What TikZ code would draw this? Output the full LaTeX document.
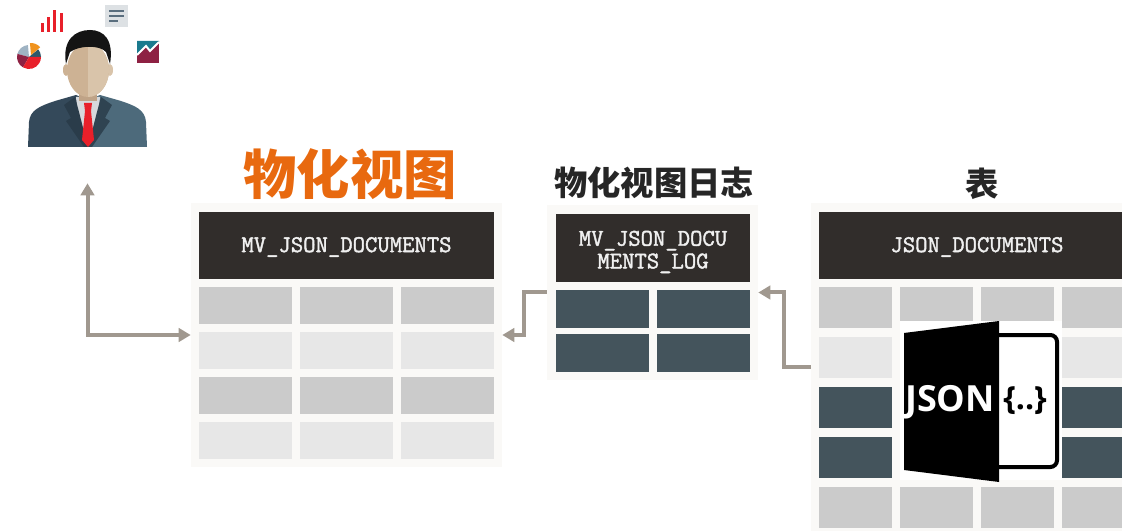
\documentclass[tikz,border=0pt]{standalone}
\usepackage{fontspec}
\usepackage{tikz}
\usetikzlibrary{arrows.meta,fit,positioning}

\newfontfamily\cjk{Noto Sans CJK SC}
\newfontfamily\iconfont{Open Sans}
\newfontfamily\headmono{Latin Modern Mono}[FakeBold=1.6]

\definecolor{headdark}{HTML}{312D2B}
\definecolor{panelbg}{HTML}{FAF9F7}
\definecolor{cellA}{HTML}{CBCBCB}
\definecolor{cellB}{HTML}{E7E7E7}
\definecolor{slate}{HTML}{44545C}
\definecolor{arrowgray}{HTML}{A0988F}
\definecolor{mvorange}{HTML}{E8690F}
\definecolor{suitL}{HTML}{34495A}
\definecolor{suitR}{HTML}{4D6A7B}
\definecolor{lapel}{HTML}{2A3C4A}
\definecolor{shirt}{HTML}{D6D9DC}
\definecolor{tiered}{HTML}{E8202A}
\definecolor{skinL}{HTML}{CDB294}
\definecolor{skinR}{HTML}{D9C4AA}
\definecolor{skinD}{HTML}{BFA387}
\definecolor{hair}{HTML}{141414}
\definecolor{pieorange}{HTML}{F0931E}
\definecolor{pieblue}{HTML}{9FB3C3}
\definecolor{maroon}{HTML}{8E2143}
\definecolor{teal}{HTML}{1B7A8E}
\definecolor{docbg}{HTML}{DDE1E4}
\definecolor{docline}{HTML}{5A6E7E}

\tikzset{
  panel/.style={fill=panelbg, draw=none, inner sep=0pt},
  headbox/.style={fill=headdark, draw=none, inner sep=0pt},
  headtext/.style={text=white!94!black, inner sep=0pt, align=center,
    font=\fontsize{18}{17}\selectfont\headmono},
  flow/.style={draw=arrowgray, line width=3pt, >={Triangle[length=9pt,width=10pt]}},
  title/.style={font=\cjk\bfseries\fontsize{25}{25}\selectfont, text=black!85, inner sep=0pt}
}

\begin{document}
\begin{tikzpicture}[x=0.75pt,y=-0.75pt]
\useasboundingbox (0,0) rectangle (1122,531);

% user with charts
\node[fit={(28,30) (147,147)}, inner sep=0pt] (user) {};
\fill[suitL] (28,147) -- (29,122) .. controls (30,110) and (40,106) .. (55,101) -- (76,95) -- (88,100) -- (88,147) -- cycle;
\fill[suitR] (147,147) -- (146,122) .. controls (145,110) and (136,106) .. (121,101) -- (100,95) -- (88,100) -- (88,147) -- cycle;
\fill[shirt] (76,97) -- (100,97) -- (98,118) -- (88,147) -- (78,118) -- cycle;
\fill[lapel] (75,97) -- (64,105) -- (71,118) -- (66,121) -- (84,147) -- (88,147) -- (79,112) -- cycle;
\fill[lapel!85!suitR] (101,97) -- (112,105) -- (105,118) -- (110,121) -- (92,147) -- (88,147) -- (97,112) -- cycle;
\fill[tiered] (84,103) -- (92,103) -- (91,111) -- (85,111) -- cycle;
\fill[tiered] (85,111) -- (91,111) -- (94,140) -- (88,147) -- (82,140) -- cycle;
\fill[skinD] (79,84) rectangle (97,101);
\fill[skinL] (66,70) ellipse (3 and 6);
\fill[skinR] (110,70) ellipse (3 and 6);
\fill[skinL] (88,70) ellipse (21 and 27);
\begin{scope}
  \clip (88,40) rectangle (112,100);
  \fill[skinR] (88,70) ellipse (21 and 27);
\end{scope}
\fill[hair] (66,64) .. controls (62,40) and (75,30) .. (90,30) .. controls (104,30) and (114,40) .. (110,64)
  -- (106,52) .. controls (100,45) and (80,45) .. (70,52) -- cycle;
% bars
\foreach \bx/\by in {41/23,47/17,53/10,60/13}
  \fill[tiered] (\bx,\by) rectangle ({\bx+3},32);
% pie
\begin{scope}[shift={(29,57)},yscale=-1]
  \fill[teal!30!suitL] (0,0) -- (0:12) arc[start angle=0, end angle=40, radius=12] -- cycle;
  \fill[pieblue] (0,0) -- (95:12) arc[start angle=95, end angle=165, radius=12] -- cycle;
  \fill[maroon] (0,0) -- (165:12) arc[start angle=165, end angle=240, radius=12] -- cycle;
  \fill[tiered] (0,0) -- (240:12) arc[start angle=240, end angle=360, radius=12] -- cycle;
  \fill[pieorange] (2,2) -- ++(40:12) arc[start angle=40, end angle=95, radius=12] -- cycle;
\end{scope}
% report
\fill[docbg] (105,5) rectangle (128,27);
\draw[docline, line width=2pt] (109,11) -- (124,11) (109,16) -- (124,16) (109,21) -- (118,21);
% trend
\fill[maroon] (137,41) rectangle (159,63);
\fill[teal] (137,41) -- (159,41) -- (159,42) -- (150,51) -- (146,46) -- (137,55) -- cycle;
\draw[white, line width=1.5pt] (137,55) -- (146,46) -- (150,51) -- (159,42);

% materialized view
\node[title, font=\cjk\bfseries\fontsize{40}{40}\selectfont, text=mvorange] (mvtitle) at (350,174) {物化视图};
\node[panel, fit={(191,203) (502,467)}] (mvpanel) {};
\node[headbox, fit={(199,212) (494,279)}] (mvhead) {};
\node[headtext] (mvname) at (346.5,247) {MV\_JSON\_DOCUMENTS};
\foreach \r/\c in {0/cellA,1/cellB,2/cellA,3/cellB}
  \foreach \k in {0,1,2}
    \fill[\c] ({199+101*\k},{287+45*\r}) rectangle ++(93,37);

% log
\node[title] (logtitle) at (654,183) {物化视图日志};
\node[panel, fit={(547,205) (758,380)}] (logpanel) {};
\node[headbox, fit={(556,214) (750,282)}] (loghead) {};
\node[headtext] (logname) at (653,252) {MV\_JSON\_DOCU\\MENTS\_LOG};
\foreach \r in {0,1}
  \foreach \k in {0,1}
    \fill[slate] ({556+101*\k},{290+44*\r}) rectangle ++(93,38);

% table
\node[title] (tbltitle) at (982,184) {表};
\node[panel, fit={(811,203) (1122,531)}] (tblpanel) {};
\node[headbox, fit={(819,212) (1122,279)}] (tblhead) {};
\node[headtext] (tblname) at (977,247) {JSON\_DOCUMENTS};
\foreach \r/\c in {0/cellA,1/cellB,2/slate,3/slate,4/cellA}
  \foreach \k in {0,1,2,3}
    \fill[\c] ({819+81*\k},{287+50*\r}) rectangle ++(73,41);

% json file
\node[fill=white, inner sep=0pt, fit={(900,321) (1062,480)}] (jsonicon) {};
\draw[black, line width=3pt, rounded corners=5pt] (990,335) rectangle (1057,467);
\fill[black] (904,333) -- (999,321) -- (999,482) -- (904,470) -- cycle;
\node[text=white, font=\iconfont\bfseries\fontsize{27}{27}\selectfont, inner sep=0pt] (jsonword) at (950,402) {JSON};
\node[text=black, font=\iconfont\bfseries\fontsize{24}{24}\selectfont, inner sep=0pt] (jsonbrace) at (1025,401) {\{..\}};

% data flow
\draw[flow, ->] (tblpanel.west) -- ++(-27,0) |- (logpanel.east);
\draw[flow, ->] (logpanel.west) -- ++(-23,0) |- (mvpanel.east);
\draw[flow, <->] ([yshift=-27pt]user.south) |- (mvpanel.west);
\end{tikzpicture}
\end{document}
